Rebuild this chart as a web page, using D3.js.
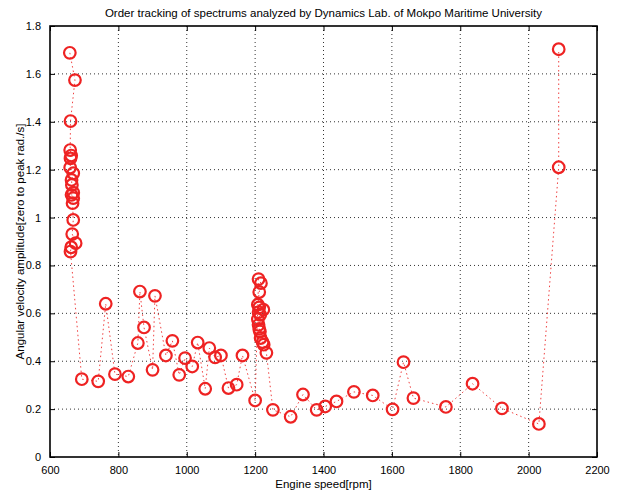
<!DOCTYPE html>
<html><head><meta charset="utf-8">
<script src="https://cdn.jsdelivr.net/npm/d3@7"></script>
<style>body{margin:0;background:#fff}svg{display:block}text{font-family:"Liberation Sans",Arial,sans-serif;fill:#000}</style>
</head><body><svg id="c" width="621" height="493"></svg>
<script>
const title = "Order tracking of spectrums analyzed by Dynamics Lab. of Mokpo Maritime University";
const xLabel = "Engine speed[rpm]";
const yLabel = "Angular velocity amplitude[zero to peak rad./s]";
const xTicks = [600,800,1000,1200,1400,1600,1800,2000,2200];
const yTicks = [0,0.2,0.4,0.6,0.8,1,1.2,1.4,1.6,1.8];
const rpm = [658,673,660,659,662,660,659,668,663,664,668,663,668,666,668,665,675,662,660,
  693,741,763,790,829,857,863,875,900,907,939,958,978,995,1016,1032,1054,1066,1083,1100,1122,1146,1163,1200,
  1210,1217,1212,1208,1212,1224,1210,1215,1208,1210,1212,1214,1216,1222,1225,1233,
  1252,1304,1340,1380,1405,1438,1489,1544,1602,1634,1663,1758,1836,1922,2030,2088,2088];
const amp = [1.688,1.574,1.403,1.282,1.259,1.247,1.209,1.185,1.157,1.136,1.104,1.095,1.081,1.06,0.99,0.931,0.893,0.876,0.858,
  0.325,0.316,0.64,0.346,0.336,0.476,0.691,0.541,0.364,0.673,0.424,0.485,0.343,0.413,0.378,0.478,0.285,0.455,0.416,0.424,0.288,0.302,0.424,0.236,
  0.743,0.726,0.689,0.636,0.625,0.615,0.605,0.594,0.575,0.552,0.535,0.524,0.497,0.48,0.469,0.435,
  0.197,0.168,0.261,0.197,0.211,0.232,0.272,0.257,0.199,0.396,0.246,0.209,0.306,0.203,0.138,1.21,1.703];

const svg = d3.select("#c");
const L=50,R=597,T=26,B=457;
const x = d3.scaleLinear().domain([600,2200]).range([L,R]);
const y = d3.scaleLinear().domain([0,1.8]).range([B,T]);
const fmt = d3.format("~g");

// grid
const g = svg.append("g");
g.selectAll(".gx").data(xTicks.slice(1,-1)).join("line")
  .attr("x1",d=>x(d)).attr("x2",d=>x(d)).attr("y1",T).attr("y2",B)
  .attr("stroke","#333").attr("stroke-width",1).attr("stroke-dasharray","1,3");
g.selectAll(".gy").data(yTicks.slice(1,-1)).join("line")
  .attr("y1",d=>y(d)).attr("y2",d=>y(d)).attr("x1",L).attr("x2",R)
  .attr("stroke","#333").attr("stroke-width",1).attr("stroke-dasharray","1,3");

// axes
const xa = svg.append("g").attr("transform",`translate(0,${B})`)
  .call(d3.axisBottom(x).tickValues(xTicks).tickFormat(fmt).tickSizeInner(-5).tickSizeOuter(0).tickPadding(9));
const xt = svg.append("g").attr("transform",`translate(0,${T})`)
  .call(d3.axisTop(x).tickValues(xTicks).tickFormat("").tickSizeInner(-5).tickSizeOuter(0));
const ya = svg.append("g").attr("transform",`translate(${L},0)`)
  .call(d3.axisLeft(y).tickValues(yTicks).tickFormat(fmt).tickSizeInner(-5).tickSizeOuter(0).tickPadding(9));
const yr = svg.append("g").attr("transform",`translate(${R},0)`)
  .call(d3.axisRight(y).tickValues(yTicks).tickFormat("").tickSizeInner(-5).tickSizeOuter(0));
[xa,xt,ya,yr].forEach(a=>{a.select(".domain").remove();a.selectAll("line").attr("stroke","#000");
  a.selectAll("text").attr("font-size",11).attr("font-family","Liberation Sans, Arial, sans-serif").attr("fill","#000");});
svg.append("rect").attr("x",L).attr("y",T).attr("width",R-L).attr("height",B-T)
  .attr("fill","none").attr("stroke","#000").attr("stroke-width",1.6);

// data
const pts = rpm.map((r,i)=>[r,amp[i]]);
svg.append("path").datum(pts)
  .attr("d",d3.line().x(d=>x(d[0])).y(d=>y(d[1])))
  .attr("fill","none").attr("stroke","#f04040").attr("stroke-width",1).attr("stroke-dasharray","1.5,3");
svg.selectAll("circle.m").data(pts).join("circle")
  .attr("cx",d=>x(d[0])).attr("cy",d=>y(d[1])).attr("r",5.8)
  .attr("fill","none").attr("stroke","#ee2222").attr("stroke-width",2.2);

// labels
svg.append("text").attr("x",(L+R)/2).attr("y",17).attr("text-anchor","middle").attr("font-size",11.5).text(title);
svg.append("text").attr("x",(L+R)/2).attr("y",488).attr("text-anchor","middle").attr("font-size",11.5).text(xLabel);
svg.append("text").attr("transform",`translate(24,${(T+B)/2}) rotate(-90)`).attr("text-anchor","middle").attr("font-size",11.5).text(yLabel);
</script></body></html>
